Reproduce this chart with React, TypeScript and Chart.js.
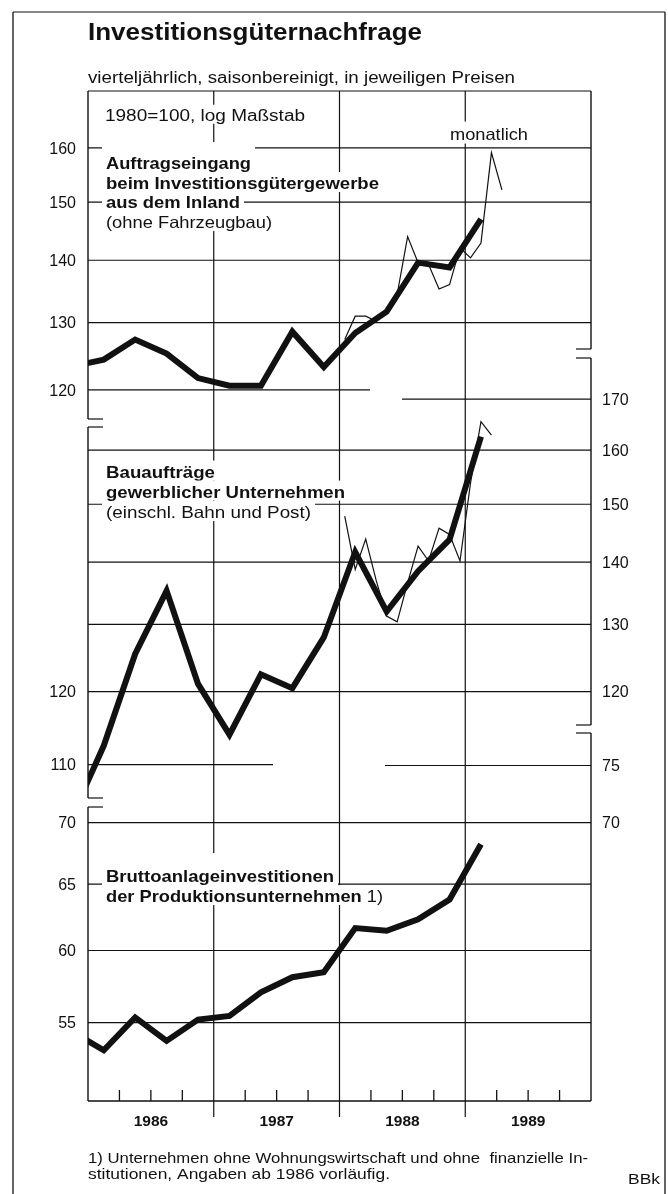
import React, { useEffect, useRef } from 'react';
import { Chart, registerables } from 'chart.js';

Chart.register(...registerables);

// ---------------- data ----------------
const quarterLabels = [
  '1985-Q4',
  '1986-Q1', '1986-Q2', '1986-Q3', '1986-Q4',
  '1987-Q1', '1987-Q2', '1987-Q3', '1987-Q4',
  '1988-Q1', '1988-Q2', '1988-Q3', '1988-Q4',
  '1989-Q1',
];
// Auftragseingang beim Investitionsgütergewerbe aus dem Inland (1980=100)
const auftragQuarterly = [123.4, 124.4, 127.4, 125.3, 121.7, 120.6, 120.6, 128.6, 123.3, 128.4, 131.7, 139.6, 138.8, 147.0];
// Bauaufträge gewerblicher Unternehmen
const bauQuarterly = [103.5, 112.5, 125.5, 135.3, 121.1, 114.0, 122.5, 120.5, 128.0, 141.7, 132.0, 138.5, 143.8, 162.6];
// Bruttoanlageinvestitionen der Produktionsunternehmen
const bruttoQuarterly = [54.4, 53.2, 55.35, 53.8, 55.2, 55.45, 57.05, 58.1, 58.45, 61.65, 61.45, 62.3, 63.8, 68.2];

const auftragMonthLabels = [
  '1988-01', '1988-02', '1988-03', '1988-04', '1988-05', '1988-06',
  '1988-07', '1988-08', '1988-09', '1988-10', '1988-11', '1988-12',
  '1989-01', '1989-02', '1989-03', '1989-04',
];
const auftragMonthly = [127.4, 131.0, 131.0, 130.2, 132.1, 134.4, 144.0, 139.6, 139.3, 135.3, 136.0, 142.1, 140.4, 142.9, 159.1, 152.2];

const bauMonthLabels = [
  '1988-01', '1988-02', '1988-03', '1988-04', '1988-05', '1988-06',
  '1988-07', '1988-08', '1988-09', '1988-10', '1988-11', '1988-12',
  '1989-01', '1989-02', '1989-03',
];
const bauMonthly = [147.9, 138.8, 143.9, 137.0, 131.3, 130.4, 136.6, 142.7, 140.2, 145.8, 144.7, 140.2, 153.8, 165.5, 162.9];

const yearLabels = ['1986', '1987', '1988', '1989'];
const ticksA = [120, 130, 140, 150, 160];
const ticksBLeft = [110, 120];
const ticksBRight = [120, 130, 140, 150, 160, 170];
const ticksCLeft = [55, 60, 65, 70];
const ticksCRight = [70, 75];

// ---------------- texts ----------------
const titleText = 'Investitionsgüternachfrage';
const subtitleText = 'vierteljährlich, saisonbereinigt, in jeweiligen Preisen';
const baseText = '1980=100, log Maßstab';
const monthlyText = 'monatlich';
const footnoteLines = [
  '1) Unternehmen ohne Wohnungswirtschaft und ohne  finanzielle In-',
  'stitutionen, Angaben ab 1986 vorläufig.',
];
const sourceText = 'BBk';

// ---------------- helpers ----------------
const qx = (l: string) => {
  const [y, q] = l.split('-Q');
  return Number(y) + (Number(q) - 0.5) / 4;
};
const mx = (l: string) => {
  const [y, m] = l.split('-');
  return Number(y) + (Number(m) - 0.5) / 12;
};
const toPoints = (labels: string[], vals: number[], f: (l: string) => number) =>
  labels.map((l, i) => ({ x: f(l), y: vals[i] }));

const FONT = '"Liberation Sans", Arial, Helvetica, sans-serif';
const INK = '#111111';

type Seg = [string, boolean];
function drawSegs(
  ctx: CanvasRenderingContext2D,
  segs: Seg[],
  x: number,
  y: number,
  size: number,
  opts: { width?: number; align?: 'left' | 'right' | 'center'; box?: boolean; boxH?: number; padTop?: number } = {}
) {
  ctx.save();
  const widths = segs.map(([t, b]) => {
    ctx.font = `${b ? 'bold ' : ''}${size}px ${FONT}`;
    return ctx.measureText(t).width;
  });
  const natural = widths.reduce((a, b) => a + b, 0);
  const s = opts.width ? opts.width / natural : 1;
  const total = natural * s;
  let left = x;
  if (opts.align === 'right') left = x - total;
  if (opts.align === 'center') left = x - total / 2;
  if (opts.box) {
    const h = opts.boxH ?? 20;
    const pt = opts.padTop ?? 0;
    const top = y - size * 0.72 - (h - size * 0.72) / 2 - 1;
    ctx.fillStyle = '#ffffff';
    ctx.fillRect(left - 4, top - pt, total + 8, h + pt);
  }
  ctx.fillStyle = INK;
  ctx.textBaseline = 'alphabetic';
  ctx.textAlign = 'left';
  let cx = left;
  segs.forEach(([t, b], i) => {
    ctx.save();
    ctx.font = `${b ? 'bold ' : ''}${size}px ${FONT}`;
    ctx.translate(cx, y);
    ctx.scale(s, 1);
    ctx.fillText(t, 0, 0);
    ctx.restore();
    cx += widths[i] * s;
  });
  ctx.restore();
}

// label layout (pixels)
const seriesLabelLayout: { x: number; size: number; padTop: number; lines: { y: number; w: number; segs: Seg[] }[] }[] = [
  {
    x: 106,
    size: 16.5,
    padTop: 10,
    lines: [
      { y: 169, w: 145, segs: [['Auftragseingang', true]] },
      { y: 189, w: 273, segs: [['beim Investitionsgütergewerbe', true]] },
      { y: 208, w: 134, segs: [['aus dem Inland', true]] },
      { y: 228, w: 166, segs: [['(ohne Fahrzeugbau)', false]] },
    ],
  },
  {
    x: 106,
    size: 16.5,
    padTop: 0,
    lines: [
      { y: 477.5, w: 109, segs: [['Bauaufträge', true]] },
      { y: 497.5, w: 239, segs: [['gewerblicher Unternehmen', true]] },
      { y: 518, w: 205, segs: [['(einschl. Bahn und Post)', false]] },
    ],
  },
  {
    x: 106,
    size: 16.5,
    padTop: 12,
    lines: [
      { y: 882, w: 228, segs: [['Bruttoanlageinvestitionen', true]] },
      { y: 902, w: 277, segs: [['der Produktionsunternehmen', true], [' 1)', false]] },
    ],
  },
];

const decorPlugin = {
  id: 'decor',
  beforeDraw(chart: any) {
    const ctx = chart.ctx as CanvasRenderingContext2D;
    ctx.save();
    ctx.fillStyle = '#ffffff';
    ctx.fillRect(0, 0, chart.width, chart.height);
    ctx.restore();
  },
  beforeDatasetsDraw(chart: any) {
    const ctx = chart.ctx as CanvasRenderingContext2D;
    const ca = chart.chartArea;
    const sx = chart.scales.x;
    const yA = chart.scales.yA;
    const yB = chart.scales.yB;
    const yC = chart.scales.yC;
    const L = ca.left;
    const R = ca.right;
    const T = ca.top;
    const B = ca.bottom;

    const hline = (y: number, x0: number, x1: number, w = 1.2) => {
      ctx.save();
      ctx.strokeStyle = INK;
      ctx.lineWidth = w;
      ctx.beginPath();
      ctx.moveTo(x0, y);
      ctx.lineTo(x1, y);
      ctx.stroke();
      ctx.restore();
    };
    const vline = (x: number, y0: number, y1: number, w = 1.2) => {
      ctx.save();
      ctx.strokeStyle = INK;
      ctx.lineWidth = w;
      ctx.beginPath();
      ctx.moveTo(x, y0);
      ctx.lineTo(x, y1);
      ctx.stroke();
      ctx.restore();
    };

    // outer frame
    hline(12, 13, 665, 1.2);
    vline(13, 12, 1194, 1.3);
    vline(665, 12, 1194, 1.3);

    // title & subtitle
    drawSegs(ctx, [[titleText, true]], 88, 40, 23, { width: 334 });
    drawSegs(ctx, [[subtitleText, false]], 88, 83, 16, { width: 427 });

    // inner top line
    hline(T, L, R);

    // year separators
    yearLabels.forEach((y, i) => {
      if (i === 0) return;
      const x = sx.getPixelForValue(Number(y));
      vline(x, T, B + 16);
    });

    // horizontal grid lines
    const grid: { s: any; v: number; from?: number; to?: number }[] = [
      ...ticksA.map((v) => ({ s: yA, v, to: v === 120 ? 370 : undefined })),
      ...ticksBRight.map((v) => ({ s: yB, v, from: v === 170 ? 402 : undefined })),
      { s: yB, v: ticksBLeft[0], to: 273 },
      ...ticksCLeft.map((v) => ({ s: yC, v })),
      { s: yC, v: ticksCRight[1], from: 385 },
    ];
    grid.forEach((g) => {
      const y = g.s.getPixelForValue(g.v);
      hline(y, g.from ?? L, g.to ?? R);
    });

    // left axis with breaks
    const stub = 15;
    vline(L, T, 419, 1.4);
    hline(419, L, L + stub);
    vline(L, 427, 798, 1.4);
    hline(427, L, L + stub);
    hline(798, L, L + stub);
    vline(L, 807, B, 1.4);
    hline(807, L, L + stub);
    // right axis with breaks
    vline(R, T, 349, 1.4);
    hline(349, R - stub, R);
    vline(R, 358, 725, 1.4);
    hline(358, R - stub, R);
    hline(725, R - stub, R);
    vline(R, 733, B, 1.4);
    hline(733, R - stub, R);

    // x axis & quarter ticks
    hline(B, L, R, 1.4);
    yearLabels.forEach((y) => {
      for (let q = 1; q < 4; q++) {
        const x = sx.getPixelForValue(Number(y) + q / 4);
        vline(x, B - 11, B, 1.3);
      }
    });

    // label boxes
    drawSegs(ctx, [[baseText, false]], 105, 121, 16, { width: 200, box: true, boxH: 19 });
    drawSegs(ctx, [[monthlyText, false]], 450, 139.5, 16.5, { width: 78, box: true, boxH: 22 });
    seriesLabelLayout.forEach((lab) => {
      lab.lines.forEach((ln, i) => {
        drawSegs(ctx, ln.segs, lab.x, ln.y, lab.size, {
          width: ln.w,
          box: true,
          boxH: 20,
          padTop: i === 0 ? lab.padTop : 0,
        });
      });
    });

    // tick labels
    const leftLab = (s: any, vals: number[]) =>
      vals.forEach((v) => {
        const y = s.getPixelForValue(v);
        drawSegs(ctx, [[String(v), false]], 76, y + 5.6, 16, { align: 'right' });
      });
    const rightLab = (s: any, vals: number[]) =>
      vals.forEach((v) => {
        const y = s.getPixelForValue(v);
        drawSegs(ctx, [[String(v), false]], 602, y + 5.6, 16, { align: 'left' });
      });
    leftLab(yA, ticksA);
    leftLab(yB, ticksBLeft);
    rightLab(yB, ticksBRight);
    leftLab(yC, ticksCLeft);
    rightLab(yC, ticksCRight);

    // year labels
    yearLabels.forEach((y) => {
      const x = sx.getPixelForValue(Number(y) + 0.5);
      drawSegs(ctx, [[y, true]], x, 1126, 15.5, { align: 'center' });
    });

    // footnote & source
    drawSegs(ctx, [[footnoteLines[0], false]], 88, 1162.5, 15, { width: 500 });
    drawSegs(ctx, [[footnoteLines[1], false]], 88, 1179, 15, { width: 302 });
    drawSegs(ctx, [[sourceText, false]], 660, 1184, 15, { align: 'right', width: 32 });
  },
};

export default function App() {
  const ref = useRef<HTMLCanvasElement>(null);
  useEffect(() => {
    if (!ref.current) return;
    const thick = { borderColor: INK, borderWidth: 6, pointRadius: 0, tension: 0, clip: 0, borderJoinStyle: 'miter' as const, fill: false };
    const thin = { borderColor: INK, borderWidth: 1.2, pointRadius: 0, tension: 0, clip: 0, fill: false };
    const chart = new Chart(ref.current, {
      type: 'line',
      data: {
        datasets: [
          { ...thin, label: 'Auftragseingang monatlich', yAxisID: 'yA', data: toPoints(auftragMonthLabels, auftragMonthly, mx) },
          { ...thick, label: 'Auftragseingang', yAxisID: 'yA', data: toPoints(quarterLabels, auftragQuarterly, qx) },
          { ...thin, label: 'Bauaufträge monatlich', yAxisID: 'yB', data: toPoints(bauMonthLabels, bauMonthly, mx) },
          { ...thick, label: 'Bauaufträge', yAxisID: 'yB', data: toPoints(quarterLabels, bauQuarterly, qx) },
          { ...thick, label: 'Bruttoanlageinvestitionen', yAxisID: 'yC', data: toPoints(quarterLabels, bruttoQuarterly, qx) },
        ] as any,
      },
      options: {
        animation: false,
        responsive: false,
        devicePixelRatio: 1,
        events: [],
        layout: { padding: { left: 88, top: 91, right: 77, bottom: 93 } },
        plugins: { legend: { display: false }, tooltip: { enabled: false }, title: { display: false } },
        scales: {
          x: { type: 'linear', min: 1986, max: 1990, display: false },
          yA: { type: 'logarithmic', position: 'left', min: 51.53, max: 171.2, display: false },
          yB: { type: 'logarithmic', position: 'left', min: 73.69, max: 245.4, display: false },
          yC: { type: 'logarithmic', position: 'left', min: 50.04, max: 169.2, display: false },
        },
      } as any,
      plugins: [decorPlugin as any],
    });
    return () => chart.destroy();
  }, []);
  return (
    <div style={{ position: 'absolute', left: 0, top: 0, width: 668, height: 1194, background: '#fff' }}>
      <canvas ref={ref} width={668} height={1194} style={{ display: 'block', width: 668, height: 1194 }} />
    </div>
  );
}
